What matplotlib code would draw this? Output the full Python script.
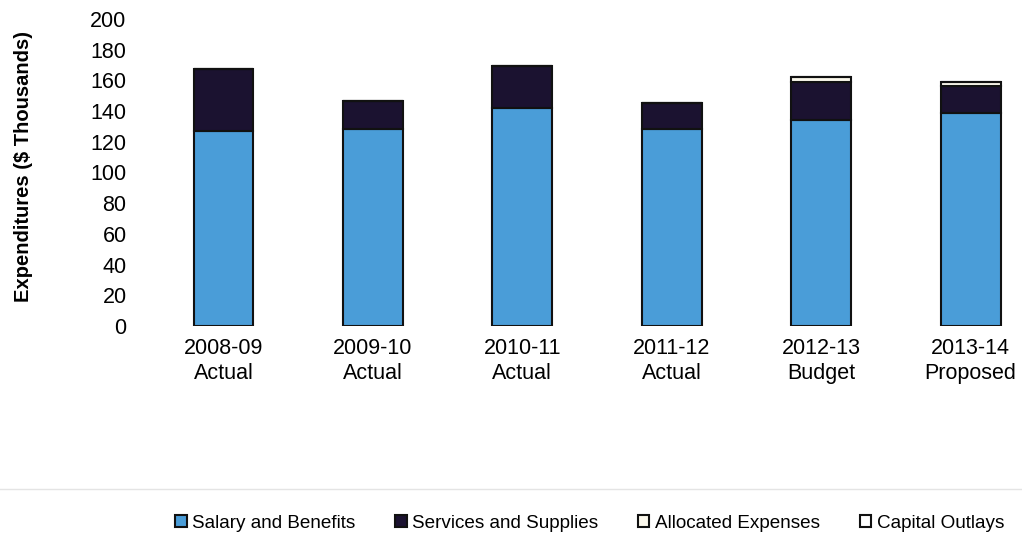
import matplotlib
matplotlib.use('Agg')
import matplotlib.pyplot as plt
import numpy as np

plt.rcParams['font.family'] = ['Liberation Sans', 'DejaVu Sans']

# data ($ thousands)
years = ['2008-09\nActual', '2009-10\nActual', '2010-11\nActual',
         '2011-12\nActual', '2012-13\nBudget', '2013-14\nProposed']
salary = [127, 128.5, 142, 128.5, 134, 138.5]
services = [40.5, 18, 27.5, 16.5, 25, 18]
allocated = [0, 0, 0, 0, 3.2, 2.4]
capital = [0, 0, 0, 0, 0, 0]

series = ['Salary and Benefits', 'Services and Supplies', 'Allocated Expenses', 'Capital Outlays']
colors = ['#4a9dd8', '#1b1230', '#fbf8ec', '#ffffff']

fig = plt.figure(figsize=(10.22, 5.37), dpi=100)
ax = fig.add_axes([0.147, 0.393, 0.851, 0.572])

x = np.arange(len(years))
bottom = np.zeros(len(years))
handles = []
for vals, col, name in zip([salary, services, allocated, capital], colors, series):
    b = ax.bar(x, vals, 0.4, bottom=bottom, color=col, edgecolor='#111111',
               linewidth=1.5, label=name)
    bottom += np.array(vals)
    handles.append(b)

ax.set_ylim(0, 200)
ax.set_yticks(range(0, 201, 20))
ax.set_xlim(-0.49, 5.33)
ax.set_xticks(x)
ax.set_xticklabels(years, fontsize=15.5)
ax.tick_params(axis='y', labelsize=15.5, length=0, pad=17)
ax.tick_params(axis='x', length=0, pad=9)
for s in ax.spines.values():
    s.set_visible(False)
ax.set_ylabel('Expenditures ($ Thousands)', fontsize=14.5, fontweight='bold')
ax.yaxis.set_label_coords(-0.135, 0.52)

# faint separator line above the legend
fig.add_artist(plt.Line2D([0, 1], [0.089, 0.089], color='#e4e4e4', linewidth=1))

leg = fig.legend(handles=handles, labels=series, loc='center', bbox_to_anchor=(0.577, 0.026),
                 ncol=4, frameon=False, fontsize=13.6, handlelength=0.6, handleheight=0.6,
                 handletextpad=0.3, columnspacing=2.1)

fig.savefig('out.png', dpi=100)
